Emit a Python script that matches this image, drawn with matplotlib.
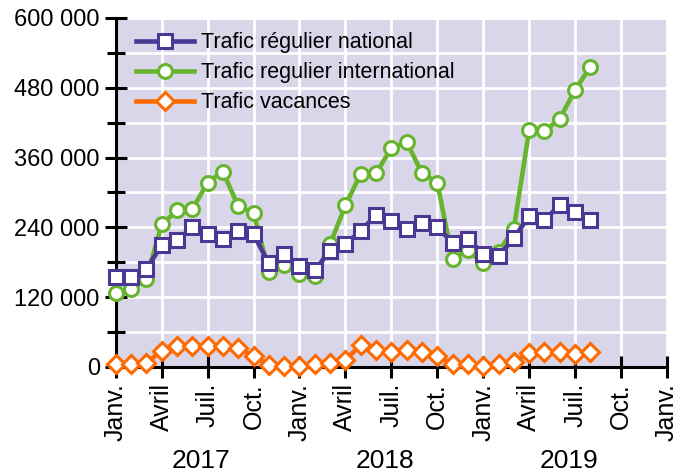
import matplotlib
matplotlib.use("Agg")
import matplotlib.pyplot as plt
from matplotlib.ticker import FuncFormatter, MultipleLocator

plt.rcParams['font.family'] = ['Liberation Sans', 'DejaVu Sans']

# monthly values, Jan 2017 -> Aug 2019
national = [154000, 154000, 168000, 210000, 218000, 240000, 229000, 220000, 234000, 228000,
            178000, 195000, 174000, 166000, 200000, 211000, 234000, 261000, 251000, 237000,
            248000, 241000, 213000, 220000, 195000, 191000, 221000, 260000, 253000, 278000,
            266000, 252000]
international = [127000, 134000, 152000, 245000, 269000, 271000, 317000, 336000, 276000, 265000,
                 164000, 176000, 160000, 156000, 211000, 278000, 332000, 333000, 376000, 387000,
                 333000, 317000, 185000, 201000, 178000, 197000, 238000, 407000, 405000, 427000,
                 476000, 516000]
vacances = [5000, 5000, 7000, 28000, 36000, 36000, 36000, 36000, 32000, 19000,
            3000, 1000, 1000, 5000, 7000, 12000, 38000, 30000, 26000, 30000,
            26000, 19000, 5000, 5000, 2000, 5000, 9000, 24000, 25000, 26000,
            22000, 26000]

month_labels = ['Janv.', 'Avril', 'Juil.', 'Oct.'] * 3 + ['Janv.']
years = ['2017', '2018', '2019']

x = list(range(len(national)))

fig = plt.figure(figsize=(6.89, 4.72), dpi=100)
ax = fig.add_axes([0.168, 0.2225, 0.800, 0.7395])
ax.set_facecolor('#d9d6ea')

purple = '#4a3894'
green = '#67b42e'
orange = '#ff6a00'

ax.plot(x, vacances, color=orange, lw=3.3, marker='D', ms=9, mfc='white', mec=orange,
        mew=2.2, label='Trafic vacances', zorder=3, clip_on=False)
ax.plot(x, international, color=green, lw=3.3, marker='o', ms=10, mfc='white', mec=green,
        mew=2.2, label='Trafic regulier international', zorder=4, clip_on=False)
ax.plot(x, national, color=purple, lw=3.3, marker='s', ms=10, mfc='white', mec=purple,
        mew=2.2, label='Trafic régulier national', zorder=5, clip_on=False)

ax.set_xlim(0, 36)
ax.set_ylim(0, 600000)
ax.set_xticks(range(0, 37, 3))
ax.set_xticklabels(month_labels, rotation=90, fontsize=18)
ax.yaxis.set_major_locator(MultipleLocator(120000))
ax.yaxis.set_minor_locator(MultipleLocator(60000))
ax.yaxis.set_major_formatter(FuncFormatter(lambda v, p: f"{int(v):,}".replace(',', ' ')))
ax.tick_params(axis='y', labelsize=17)
ax.tick_params(axis='both', which='both', direction='inout', length=16, width=2.2, color='black')
ax.tick_params(axis='y', which='minor', length=13)

ax.grid(True, which='both', color='white', lw=2)
ax.set_axisbelow(True)
for s in ['top', 'right']:
    ax.spines[s].set_visible(False)
for s in ['left', 'bottom']:
    ax.spines[s].set_linewidth(2.2)

for k, yr in enumerate(years):
    ax.text(12 * k + 5.6, -0.27, yr, transform=ax.get_xaxis_transform(), ha='center',
            va='center', fontsize=19)

h, l = ax.get_legend_handles_labels()
ax.legend(h[::-1], l[::-1], loc='upper left', bbox_to_anchor=(0.002, 1.015), frameon=False,
          fontsize=15.5, handlelength=2.7, handletextpad=0.3, labelspacing=0.42)

fig.savefig('out.png', dpi=100)
